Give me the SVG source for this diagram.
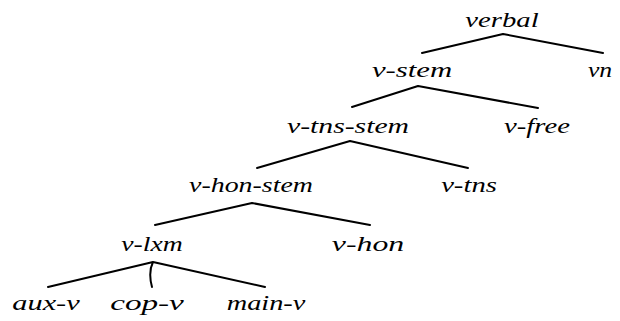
<svg xmlns="http://www.w3.org/2000/svg" width="620" height="321" viewBox="0 0 620 321">
<style>
.e{stroke:#000;stroke-width:2;fill:none;stroke-linecap:round}
.t{font-family:'Liberation Serif','Times New Roman',serif;font-style:italic;font-size:20.5px;fill:#000;text-anchor:middle}
</style>
<rect width="620" height="321" fill="#fff"/>
<g id="connectors">
<path class="e" d="M503,34 L422,53 M503,34 L603,53"/>
<path class="e" d="M418,86 L352,107 M418,86 L538,108"/>
<path class="e" d="M350,141 L257,168 M350,141 L468,168"/>
<path class="e" d="M252,203 L155,225 M252,203 L370,225"/>
<path class="e" d="M153,262 L48,287 M153,262 Q148,272 152,287 M153,262 L265,287"/>
</g>
<g id="verbal"><text class="t" transform="translate(502,27) scale(1.4,1)">verbal</text></g>
<g id="v-stem"><text class="t" transform="translate(412,77) scale(1.5,1)">v-stem</text></g>
<g id="vn"><text class="t" transform="translate(600,77) scale(1.25,1)">vn</text></g>
<g id="v-tns-stem"><text class="t" transform="translate(348,133) scale(1.45,1)">v-tns-stem</text></g>
<g id="v-free"><text class="t" transform="translate(537,133) scale(1.4,1)">v-free</text></g>
<g id="v-hon-stem"><text class="t" transform="translate(251,192) scale(1.36,1)">v-hon-stem</text></g>
<g id="v-tns"><text class="t" transform="translate(469,192) scale(1.4,1)">v-tns</text></g>
<g id="v-lxm"><text class="t" transform="translate(152,251) scale(1.35,1)">v-lxm</text></g>
<g id="v-hon"><text class="t" transform="translate(368,251) scale(1.55,1)">v-hon</text></g>
<g id="aux-v"><text class="t" transform="translate(46,310) scale(1.48,1)">aux-v</text></g>
<g id="cop-v"><text class="t" transform="translate(147,310) scale(1.62,1)">cop-v</text></g>
<g id="main-v"><text class="t" transform="translate(266,310) scale(1.38,1)">main-v</text></g>
</svg>
